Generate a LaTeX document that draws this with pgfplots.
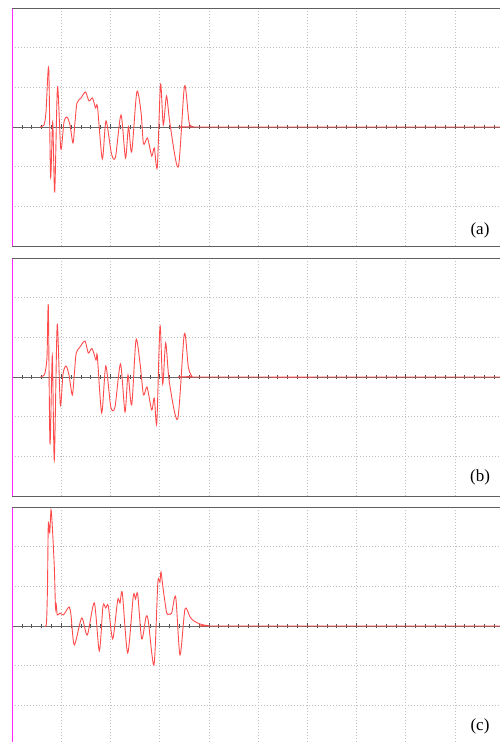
\documentclass[border=0pt]{standalone}
\usepackage{pgfplots}
\pgfplotsset{compat=1.18}
\usepackage{fontspec}
\setmainfont{Liberation Serif}
\definecolor{trace}{RGB}{255,75,75}
\definecolor{frame}{RGB}{95,95,95}
\definecolor{mag}{RGB}{255,40,255}

\pgfplotstableread{
x y
28 0
32 2
34 15
36.7 59
38.6 -50
40.7 5
42.7 -65
45.5 40
48.8 -22
52 5
55 10
58 2
61 -16
63 5
65 24
69 29
73.5 35
77 26
80.5 29
83.5 19
85.5 20
90.3 -32
94 6
99.5 -27
103.5 -30
109 12
113.5 -31
116.5 0
119.7 -25
124.8 35
129 15
131.5 -17
135.5 -11
139.7 -29
142.3 -21
145.3 -40
148.5 43
151.3 2
154.5 31
158 3
166.3 -40
172.5 41
177 5
180.5 0.5
184 0
488 0
}\dataA

\pgfplotstableread{
x y
28.5 0
31 1
33 4
35 20
36.3 71
38 -67
40.3 21
42.3 -83
45.2 52
48.3 -28
51 3
54 11
57 2
60.3 -18
62.5 5
64.2 24
68 30
73 36
76.3 24
80 28.5
84 17
85.3 21
89.7 -36
93.8 11
98.8 -30
103 -30
108.5 13
113 -35
116 2
119.7 -28
124 37
128 14
131.5 -18
135 -10
139.7 -33
142.3 -21
144.8 -46
148 51
150.7 -7
153.7 34
157.3 -5
165.7 -42
172.3 43
176.3 10
179.7 1
184 0
488 0
}\dataB

\pgfplotstableread{
x y
33 0
34.5 3
35.5 40
36.3 102
37.7 93
39 116
40.3 100
42.3 59
43.5 18
44.3 21
45.3 11
48 13
51.3 11
54.7 16
57.3 19
59 11
62.3 -19
69.7 8
75.3 -9
82.3 23
87.3 -25
91 20
93.7 18
96.3 20
100.7 -13
105.7 26
108 23
110.3 33
115.7 -27
121.3 30
123.5 27
125.7 32
129.7 -13
134 9
136.3 5
142 -39
145.7 41
147 46
148 44
149 54
151.3 36
154.7 13
157 12
159.7 13
163.7 29
168 -29
173 17
178 9
182 5
188 2
196 0.3
206 0
488 0
}\dataC

\pgfplotsset{
  panel/.style={
    anchor=south west, width=488pt, height=238pt, scale only axis,
    xmin=0, xmax=488, ymin=-119, ymax=119,
    axis x line=middle, axis y line=left,
    x axis line style={black!60, line width=0.8pt, -},
    y axis line style={mag, line width=0.8pt, -},
    xtick={0,49.2,...,480}, minor x tick num=4,
    ytick={-79.3,-39.7,39.7,79.3},
    xticklabels={}, yticklabels={},
    xmajorgrids, ymajorgrids,
    grid style={black!25, dash pattern=on 1.3pt off 1.7pt, line width=0.6pt},
    tick align=center, major tick length=5pt, minor tick length=3.5pt,
    major x tick style={black!70, line width=0.5pt},
    minor x tick style={black!70, line width=0.45pt},
    major y tick style={draw=none},
    clip=false,
  },
  sig/.style={trace, line width=0.9pt, smooth, tension=0.45, no marks},
}

\begin{document}
\begin{tikzpicture}
\useasboundingbox (0,0) rectangle (500pt,742pt);

\begin{axis}[panel, at={(12pt,496pt)}]
\addplot[sig] table[x=x,y=y] {\dataA};
\draw[frame, line width=0.8pt] (rel axis cs:0,1) -- (rel axis cs:1,1);
\draw[frame, line width=0.8pt] (rel axis cs:0,0) -- (rel axis cs:1,0);
\end{axis}

\begin{axis}[panel, at={(12pt,246pt)}]
\addplot[sig] table[x=x,y=y] {\dataB};
\draw[frame, line width=0.8pt] (rel axis cs:0,1) -- (rel axis cs:1,1);
\draw[frame, line width=0.8pt] (rel axis cs:0,0) -- (rel axis cs:1,0);
\end{axis}

\begin{axis}[panel, at={(12pt,-3pt)}]
\addplot[sig] table[x=x,y=y] {\dataC};
\draw[frame, line width=0.8pt] (rel axis cs:0,1) -- (rel axis cs:1,1);
\draw[frame, line width=0.8pt] (rel axis cs:0,0) -- (rel axis cs:1,0);
\end{axis}

\node[font=\fontsize{17}{20}\selectfont] at (480pt,511.5pt) {(a)};
\node[font=\fontsize{17}{20}\selectfont] at (480pt,265pt) {(b)};
\node[font=\fontsize{17}{20}\selectfont] at (480pt,16pt) {(c)};
\end{tikzpicture}
\end{document}
